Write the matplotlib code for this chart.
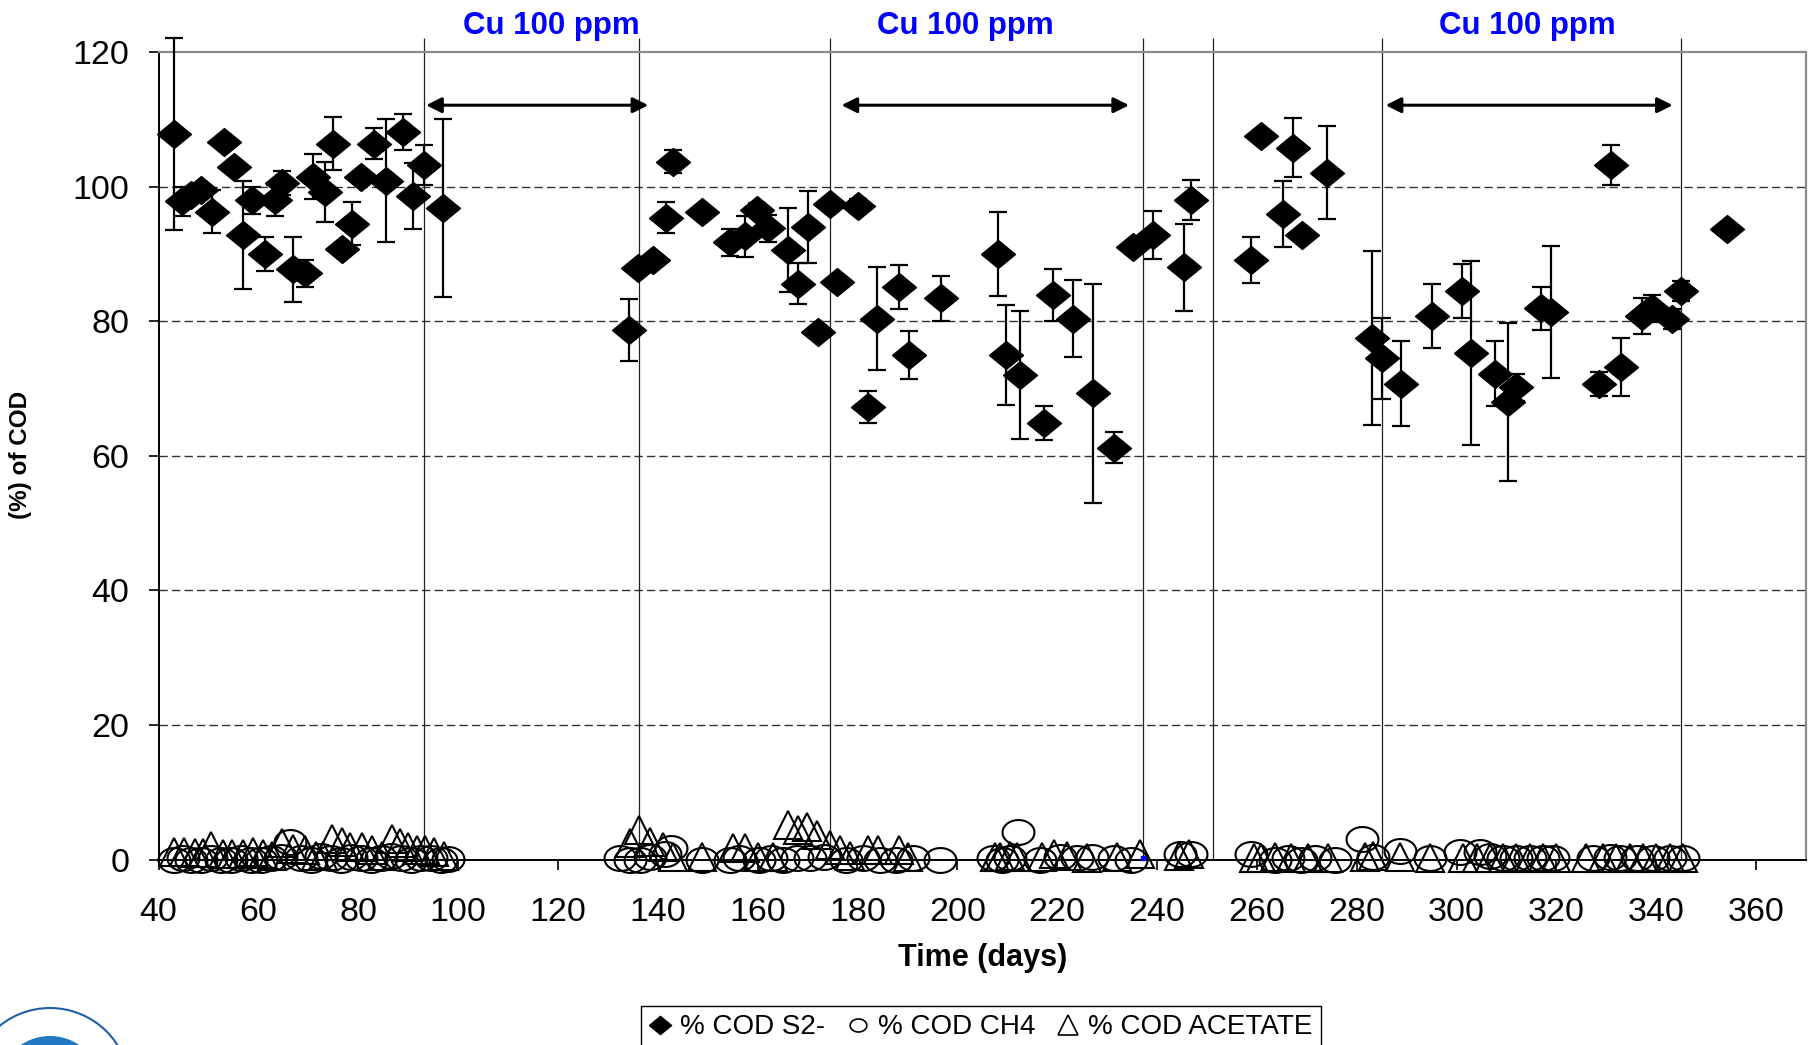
"""
Grafico del % de COD (S2-, CH4 y acetato) frente al tiempo, con los periodos
de adicion de Cu 100 ppm.
"""

import numpy as np
import matplotlib
matplotlib.use("Agg")
import matplotlib.pyplot as plt
from matplotlib.lines import Line2D
from matplotlib.patches import Ellipse

plt.rcParams['font.family'] = ['Liberation Sans', 'DejaVu Sans']

# datos
dias_s2 = [43.0, 44.6, 46.5, 48.6, 50.7, 53.1, 55.1, 57.0, 58.7, 61.3, 63.3,
           64.7, 66.9, 69.3, 71.0, 73.3, 74.9, 76.8, 78.7, 80.5, 83.2, 85.6,
           88.9, 90.9, 93.2, 97.0,
           134.3, 136.1, 139.1, 141.6, 143.0, 148.8, 154.5, 157.5, 159.9,
           162.1, 166.1, 168.1, 170.0, 172.0, 174.4, 175.8, 180.2, 182.2,
           184.0, 188.4, 190.3, 196.7,
           208.2, 209.7, 212.5, 217.4, 219.2, 223.2, 227.1, 231.4, 235.2,
           239.2, 245.4, 246.9,
           258.9, 260.9, 265.3, 267.2, 269.1, 274.0, 283.1, 285.0, 288.9,
           295.1, 301.0, 302.8, 307.7, 310.3, 312.0, 317.0, 319.0, 328.6,
           330.9, 332.9, 337.1, 339.1, 343.1, 344.9, 354.1]
cod_s2 = [107.8, 97.8, 98.8, 99.5, 96.3, 106.6, 102.9, 92.8, 98.0, 90.0, 98.0,
          100.5, 87.7, 87.1, 101.5, 99.2, 106.4, 90.8, 94.5, 101.5, 106.4,
          100.9, 108.1, 98.6, 103.2, 96.8,
          78.7, 87.9, 89.1, 95.4, 103.7, 96.3, 91.7, 92.6, 96.6, 93.8, 90.6,
          85.6, 94.0, 78.4, 97.4, 85.9, 97.1, 67.3, 80.4, 85.1, 75.0, 83.4,
          90.0, 75.0, 72.0, 64.9, 83.9, 80.4, 69.3, 61.2, 91.1, 92.8, 88.0,
          98.0,
          89.1, 107.5, 96.0, 105.8, 92.8, 102.1, 77.5, 74.5, 70.7, 80.8, 84.5,
          75.3, 72.2, 68.0, 70.2, 81.9, 81.4, 70.7, 103.2, 73.2, 80.8, 81.9,
          80.3, 84.5, 93.7]
err_s2 = [14.3, 2.1, 0, 0, 3.2, 0, 0, 8.0, 2.0, 2.5, 2.3, 1.8, 4.8, 2.0, 3.3,
          4.4, 4.0, 0.8, 3.2, 0, 2.3, 9.2, 2.7, 4.9, 3.0, 13.2,
          4.6, 0, 0, 2.3, 1.7, 0, 2.0, 3.1, 1.0, 2.0, 6.2, 3.0, 5.3, 0, 0, 0,
          1.0, 2.4, 7.7, 3.3, 3.6, 3.3,
          6.3, 7.4, 9.5, 2.5, 3.9, 5.7, 16.3, 2.3, 0, 3.6, 6.5, 3.0,
          3.4, 0, 4.9, 4.4, 0, 6.9, 12.9, 6.0, 6.3, 4.8, 4.0, 13.7, 4.8, 11.7,
          2.0, 3.2, 9.8, 1.8, 3.0, 4.3, 2.7, 2.0, 1.5, 1.5, 0]

dias_ch4 = [43.0, 44.8, 46.5, 48.5, 50.5, 52.5, 54.5, 56.5, 58.5, 60.5, 62.5,
            64.5, 66.3, 68.5, 70.5, 72.5, 74.5, 76.5, 78.5, 80.5, 82.5, 84.5,
            86.5, 88.5, 90.5, 92.5, 94.5, 96.5, 98.0,
            132.5, 134.5, 136.5, 138.5, 141.4, 142.6, 148.8, 154.5, 156.3,
            160.2, 162.6, 165.1, 167.8, 170.5, 173.2, 177.8, 181.2, 184.5,
            187.8, 191.2, 196.6,
            207.2, 209.0, 210.6, 212.2, 216.6, 220.6, 223.9, 226.9, 231.3,
            234.7, 244.6, 246.8,
            258.9, 263.6, 266.3, 268.9, 271.6, 275.6, 281.0, 283.3, 288.6,
            294.6, 300.7, 304.7, 306.7, 309.4, 312.0, 314.7, 317.4, 319.4,
            327.4, 330.7, 332.7, 336.1, 339.4, 342.7, 345.4]
cod_ch4 = [0, 0.3, 0, 0, 0.2, 0, 0, 0.3, 0, 0, 0.2, 0.4, 2.6, 0.3, 0, 0.5, 0.3,
           0, 0.4, 0.2, 0, 0.3, 0.5, 0.2, 0, 0.3, 0.2, 0, 0.1,
           0.2, 0, 0, 0.4, 0.8, 1.7, 0, 0, 0.3, 0, 0.2, 0, 0.3, 0.2, 0.4, 0,
           0.2, 0, 0, 0.3, 0,
           0.2, 0, 0.3, 4.1, 0, 0.4, 0.3, 0.4, 0.3, 0, 0.8, 0.8,
           0.9, 0, 0.2, 0, 0.3, 0, 3.0, 0.4, 1.3, 0.2, 1.1, 1.1, 0.5, 0.3, 0.2,
           0.3, 0.2, 0.3, 0.2, 0.4, 0.3, 0.2, 0.3, 0.2, 0.2]

dias_acet = [43.0, 45.0, 47.3, 49.0, 50.6, 53.0, 54.7, 57.0, 59.0, 61.0, 62.8,
             64.7, 67.0, 69.3, 71.5, 73.0, 74.7, 76.7, 78.4, 80.7, 82.7, 84.8,
             86.8, 88.4, 90.0, 91.7, 93.4, 95.1, 97.1,
             134.4, 136.2, 138.4, 141.0, 143.0, 148.8, 155.1, 157.5, 160.0,
             163.0, 166.1, 168.1, 169.8, 171.8, 174.5, 176.5, 178.5, 182.2,
             184.2, 188.4, 190.2,
             207.5, 208.6, 210.5, 212.0, 217.0, 219.3, 222.0, 226.0, 232.0,
             236.5, 244.5, 246.5,
             259.5, 260.9, 263.6, 266.9, 270.3, 274.3, 281.6, 283.3, 288.6,
             294.6, 301.3, 304.0, 306.7, 309.4, 312.0, 314.7, 317.4, 320.0,
             326.0, 329.4, 332.0, 334.7, 337.4, 340.0, 342.7, 345.4]
cod_acet = [1.2, 1.2, 1.0, 1.0, 2.0, 0.9, 0.9, 0.9, 1.2, 0.9, 0.5, 2.4, 1.6,
            1.4, 0.5, 0.6, 3.1, 2.6, 1.9, 1.9, 1.4, 0.6, 3.1, 2.4, 1.9, 1.4,
            1.4, 1.2, 0.6,
            2.4, 4.4, 2.6, 1.9, 0.4, 0.4, 1.7, 1.7, 0.4, 0.4, 5.1, 4.4, 4.9,
            3.6, 2.1, 1.4, 0.5, 1.4, 1.4, 1.4, 0.4,
            0.4, 0.4, 0.6, 0.4, 0.4, 0.8, 0.5, 0.3, 0.4, 0.8, 0.6, 0.8,
            0.3, 0.3, 0.4, 0.3, 0.3, 0.3, 0.4, 0.6, 0.4, 0.3, 0.3, 0.3, 0.3,
            0.3, 0.3, 0.3, 0.3, 0.3, 0.3, 0.3, 0.3, 0.3, 0.3, 0.3, 0.3, 0.3]

# lineas verticales y periodos con cobre
lineas_cu = [93.2, 136.3, 174.4, 237.2, 251.3, 285.1, 345.0]
inicio_cu = [93.6, 176.8, 285.8]
fin_cu = [138.1, 234.4, 343.3]
centro_texto_cu = [118.6, 201.7, 314.1]
texto_cu = 'Cu 100 ppm'

etiquetas_leyenda = ['% COD S2-', '% COD CH4', '% COD ACETATE']

# formas de los marcadores (rombo y elipse algo achatados, como el original)
rombo = [(-1, 0), (0, 0.82), (1, 0), (0, -0.82), (-1, 0)]
t = np.linspace(0, 2 * np.pi, 60)
elipse = list(zip(np.cos(t), 0.78 * np.sin(t)))

fig = plt.figure(figsize=(18.14, 10.45), dpi=100)
ax = fig.add_axes([0.0874, 0.1774, 0.9082, 0.7728])

# lineas de rejilla discontinuas
for y in [20, 40, 60, 80, 100]:
    ax.axhline(y, color='#333333', lw=1.0, ls=(0, (6, 3)), zorder=1)

ax.vlines(lineas_cu, 0, 122.1, colors='#222222', lw=0.9, clip_on=False,
          zorder=1)

# barras de error + rombos
cont = ax.errorbar(dias_s2, cod_s2, yerr=err_s2, fmt='none', ecolor='black',
                   elinewidth=1.6, capsize=6.4, capthick=1.6, zorder=3)
for hijo in cont.get_children():
    hijo.set_clip_on(False)
ax.plot(dias_s2, cod_s2, ls='none', marker=rombo, ms=24.5, color='black',
        zorder=4, clip_on=False)

ax.plot(dias_ch4, cod_ch4, ls='none', marker=elipse, ms=23, mfc='none',
        mec='black', mew=1.5, clip_on=False, zorder=5)
ax.plot(dias_acet, cod_acet, ls='none', marker='^', ms=19.5, mfc='none',
        mec='black', mew=1.5, clip_on=False, zorder=5)
ax.plot([237.2], [0.3], ls='none', marker='s', ms=3, color='blue',
        clip_on=False, zorder=6)

# flechas y textos de los periodos con Cu
for x0, x1, xc in zip(inicio_cu, fin_cu, centro_texto_cu):
    ax.annotate('', xy=(x1, 112.1), xytext=(x0, 112.1),
                arrowprops=dict(arrowstyle='<|-|>', color='black', lw=2.2,
                                mutation_scale=23, shrinkA=0, shrinkB=0))
    ax.text(xc, 123.8, texto_cu, color='blue', fontsize=22.5,
            fontweight='bold', ha='center', va='center', clip_on=False)

ax.set_xlim(40, 370)
ax.set_ylim(0, 120)
ax.set_xticks(range(40, 361, 20))
ax.set_yticks(range(0, 121, 20))
ax.tick_params(axis='both', direction='out', length=7, width=1.2,
               labelsize=24.5)
ax.tick_params(axis='y', pad=14)
ax.tick_params(axis='x', pad=20)

for lado in ['left', 'bottom']:
    ax.spines[lado].set_color('black')
    ax.spines[lado].set_linewidth(1.4)
for lado in ['top', 'right']:
    ax.spines[lado].set_color('#8c8c8c')
    ax.spines[lado].set_linewidth(1.6)

fig.text(21 / 1814, 1 - 455 / 1045, '(%) of COD', rotation=90, fontsize=17.5,
         fontweight='bold', ha='center', va='center')
fig.text(983 / 1814, 1 - 958 / 1045, 'Time (days)', fontsize=22,
         fontweight='bold', ha='center', va='center')

# leyenda abajo (cortada por el borde, como en el original)
h1 = Line2D([], [], ls='none', marker=rombo, ms=16, color='black')
h2 = Line2D([], [], ls='none', marker=elipse, ms=12, mfc='none', mec='black',
            mew=1.2)
h3 = Line2D([], [], ls='none', marker='^', ms=15, mfc='none', mec='black',
            mew=1.2)
ley = fig.legend([h1, h2, h3], etiquetas_leyenda, loc='upper center',
                 bbox_to_anchor=(0.5408, 0.0373), ncol=3, frameon=True,
                 fancybox=False, edgecolor='black', framealpha=1,
                 fontsize=20, handlelength=0.75, handletextpad=0.35,
                 columnspacing=0.8, borderpad=0.3, borderaxespad=0)
ley.get_frame().set_linewidth(1.0)

# logo (aproximado) en la esquina inferior izquierda
fig.patches.append(Ellipse((50 / 1814, 1 - 1088 / 1045), 160 / 1814,
                           160 / 1045, transform=fig.transFigure,
                           facecolor='white', edgecolor='#1f5fa8', lw=1.5))
fig.patches.append(Ellipse((50 / 1814, 1 - 1088 / 1045), 104 / 1814,
                           104 / 1045, transform=fig.transFigure,
                           facecolor='#1f78c1', edgecolor='none'))

fig.savefig('out.png', dpi=100)
